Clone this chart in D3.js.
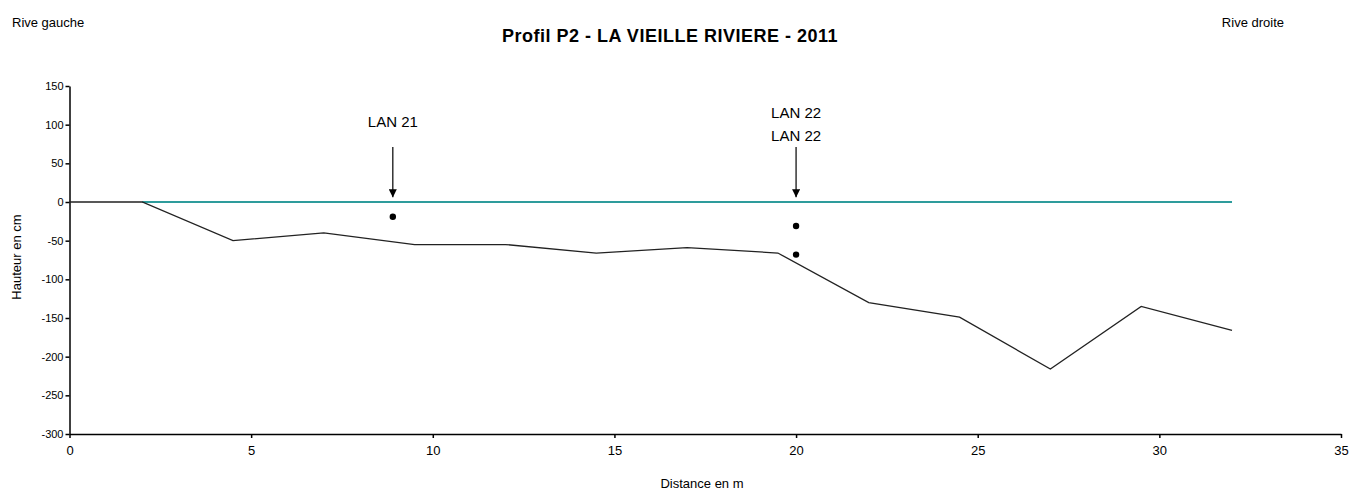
<!DOCTYPE html>
<html>
<head>
<meta charset="utf-8">
<script src="https://cdn.jsdelivr.net/npm/d3@7"></script>
<style>
  body { margin: 0; background: #fff; }
  text { font-family: "Liberation Sans", Arial, sans-serif; fill: #000; }
  .tick-y text { font-size: 11px; }
  .tick-x text { font-size: 13px; }
</style>
</head>
<body>
<div id="chart"></div>
<script>
// Profil en travers : distance (m) / hauteur (cm)
const distances = [0, 2, 4.5, 7, 9.5, 12, 14.5, 17, 19.5, 22, 24.5, 27, 29.5, 32];
const hauteurs  = [0, 0, -50, -40, -55, -55, -66, -59, -66, -130, -149, -216, -135, -166];

// niveau d'eau
const eauX = [2, 32];
const eauY = [0, 0];

// prélèvements
const pointsX = [8.9, 20, 20];
const pointsY = [-19, -31, -68];

// étiquettes des flèches
const labelX = [8.9, 20];
const labelTxt = [["LAN 21"], ["LAN 22", "LAN 22"]];

const xTicks = [0, 5, 10, 15, 20, 25, 30, 35];
const yTicks = [150, 100, 50, 0, -50, -100, -150, -200, -250, -300];

const width = 1352, height = 491;
const margin = {top: 86, right: 11, bottom: 57, left: 69.5};
const innerWidth = width - margin.left - margin.right;
const innerHeight = height - margin.top - margin.bottom;

const svg = d3.select("#chart")
  .append("svg")
  .attr("width", width)
  .attr("height", height);

const inner = svg.append("g")
  .attr("transform", `translate(${margin.left}, ${margin.top})`);

const x = d3.scaleLinear().domain([0, 35]).range([0, innerWidth]);
const y = d3.scaleLinear().domain([-300, 150]).range([innerHeight, 0]);

// axes (hyphen as minus, like the original)
const fmt = d => String(d);
const leftAxis = d3.axisLeft(y).tickValues(yTicks).tickFormat(fmt).tickSize(4).tickSizeOuter(0);
const bottomAxis = d3.axisBottom(x).tickValues(xTicks).tickFormat(fmt).tickSize(4).tickSizeOuter(0);

const gy = inner.append("g").attr("class", "tick-y").call(leftAxis);
const gx = inner.append("g").attr("class", "tick-x")
  .attr("transform", `translate(0, ${innerHeight})`)
  .call(bottomAxis);

[gx, gy].forEach(g => {
  g.selectAll("path, line").attr("stroke", "#000").attr("stroke-width", 1.5);
});
gx.selectAll("text").attr("y", 12).attr("dy", "0.71em");
gy.selectAll("text").attr("x", -6);

// niveau d'eau
const line = d3.line().x(d => x(d[0])).y(d => y(d[1]));

inner.append("path")
  .datum(d3.zip(eauX, eauY))
  .attr("d", line)
  .attr("fill", "none")
  .attr("stroke", "#2e9c9c")
  .attr("stroke-width", 2);

// profil
inner.append("path")
  .datum(d3.zip(distances, hauteurs))
  .attr("d", line)
  .attr("fill", "none")
  .attr("stroke", "#222")
  .attr("stroke-width", 1.3);

// points
inner.selectAll("circle")
  .data(d3.zip(pointsX, pointsY))
  .join("circle")
    .attr("cx", d => x(d[0]))
    .attr("cy", d => y(d[1]))
    .attr("r", 3.2)
    .attr("fill", "#000");

// flèches + étiquettes
svg.append("defs").append("marker")
  .attr("id", "arrow")
  .attr("viewBox", "0 0 10 10")
  .attr("refX", 10).attr("refY", 5)
  .attr("markerWidth", 8).attr("markerHeight", 8)
  .attr("markerUnits", "userSpaceOnUse")
  .attr("orient", "auto")
  .append("path")
    .attr("d", "M0,0 L10,5 L0,10 z")
    .attr("fill", "#000");

labelX.forEach((lx, i) => {
  inner.append("line")
    .attr("x1", x(lx)).attr("x2", x(lx))
    .attr("y1", y(71)).attr("y2", y(6))
    .attr("stroke", "#000")
    .attr("stroke-width", 1.2)
    .attr("marker-end", "url(#arrow)");

  const lines = labelTxt[i];
  const base = lines.length === 1 ? 127 : 141;
  lines.forEach((t, j) => {
    svg.append("text")
      .attr("x", margin.left + x(lx))
      .attr("y", base - (lines.length - 1 - j) * 23)
      .attr("text-anchor", "middle")
      .style("font-size", "15px")
      .text(t);
  });
});

// titres
svg.append("text")
  .text("Profil P2 - LA VIEILLE RIVIERE - 2011")
  .attr("x", 670).attr("y", 42)
  .attr("text-anchor", "middle")
  .style("font-size", "18px")
  .style("letter-spacing", "0.5px")
  .style("font-weight", "bold");

svg.append("text")
  .text("Rive gauche")
  .attr("x", 12).attr("y", 27)
  .style("font-size", "13px");

svg.append("text")
  .text("Rive droite")
  .attr("x", 1284).attr("y", 27)
  .attr("text-anchor", "end")
  .style("font-size", "13px");

svg.append("text")
  .text("Distance en m")
  .attr("x", 702).attr("y", 488)
  .attr("text-anchor", "middle")
  .style("font-size", "13px");

svg.append("text")
  .text("Hauteur en cm")
  .attr("transform", `translate(21, 257) rotate(-90)`)
  .attr("text-anchor", "middle")
  .style("font-size", "13px");
</script>
</body>
</html>
